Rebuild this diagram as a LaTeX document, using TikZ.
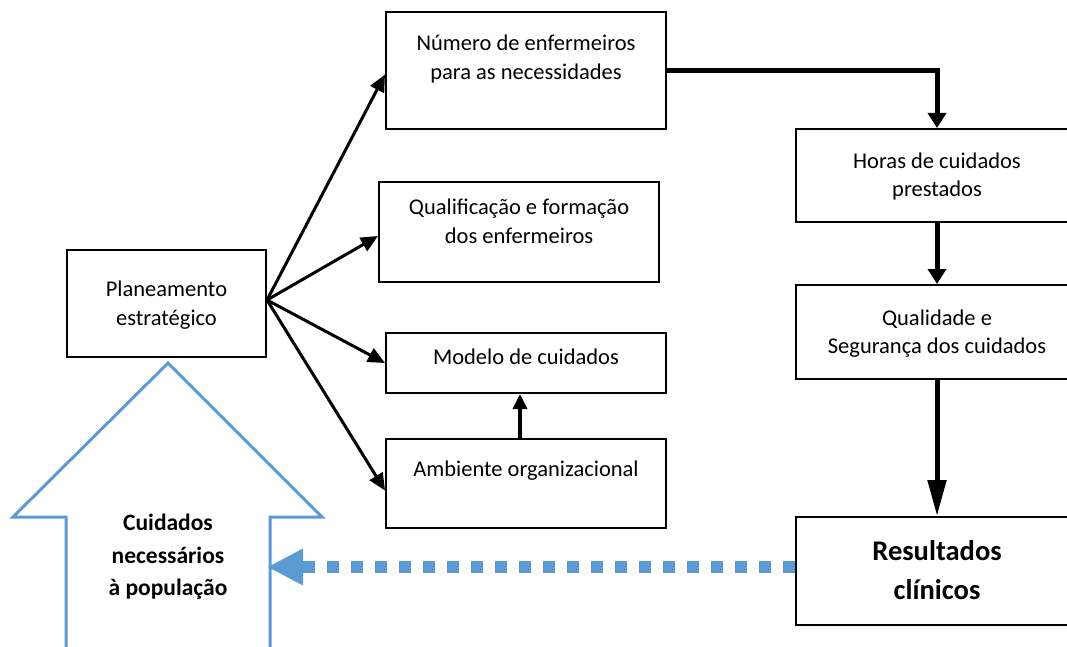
\documentclass[tikz,border=0pt]{standalone}
\usepackage{fontspec}
\setmainfont{Carlito}
\usetikzlibrary{arrows.meta}
\definecolor{ablue}{HTML}{5B9BD5}
\begin{document}
\begin{tikzpicture}[x=1pt,y=-1pt,
  box/.style={draw=black,line width=2pt,inner sep=0pt,minimum width=280pt},
  txt/.style={align=center,inner sep=0pt,font=\fontsize{22.5}{28.5}\selectfont},
  btxt/.style={align=center,inner sep=0pt,font=\fontsize{23.5}{32.5}\selectfont\bfseries},
  rtxt/.style={align=center,inner sep=0pt,font=\fontsize{28.5}{39}\selectfont\bfseries},
  thinarr/.style={line width=3pt,-{Triangle[length=17pt,width=15pt]}},
  thickarr/.style={line width=5pt,-{Triangle[length=15pt,width=18pt]}},
  longarr/.style={line width=5pt,-{Triangle[length=36pt,width=18pt]}},
  midarr/.style={line width=4pt,-{Triangle[length=15pt,width=14pt]}},
  bigarrow/.style={draw=ablue,line width=3pt,line join=miter},
  dotarr/.style={draw=ablue,line width=12pt,dash pattern=on 12pt off 12pt,
    -{Triangle[length=35pt,width=37pt,line width=0pt]}}
]
\useasboundingbox (0,0) rectangle (1067,647);

% big blue arrow
\draw[bigarrow] (168,363) -- (322,517) -- (270,517) -- (270,670)
  -- (66,670) -- (66,517) -- (13,517) -- cycle;
\node[btxt] (cuid) at (168,557) {Cuidados\\necessários\\à população};

% boxes
\node[box,minimum width=199pt,minimum height=107pt] (plan) at (166.5,303.5) {};
\node[txt] (planT) at (166.5,305) {Planeamento\\estratégico};

\node[box,minimum height=117pt] (num) at (526,70.5) {};
\node[txt] (numT) at (526,59) {Número de enfermeiros\\para as necessidades};

\node[box,minimum height=100pt] (qual) at (519,232) {};
\node[txt] (qualT) at (519,221.5) {Qualificação e formação\\dos enfermeiros};

\node[box,minimum height=60pt] (mod) at (526,363) {};
\node[txt] (modT) at (526,357) {Modelo de cuidados};

\node[box,minimum height=89pt] (amb) at (526,483.5) {};
\node[txt] (ambT) at (526,471) {Ambiente organizacional};

\node[box,minimum width=282pt,minimum height=93pt] (hor) at (937,175.5) {};
\node[txt] (horT) at (937,176.5) {Horas de cuidados\\prestados};

\node[box,minimum width=282pt,minimum height=94pt] (qse) at (937,332) {};
\node[txt] (qseT) at (937,333.5) {Qualidade e\\Segurança dos cuidados};

\node[box,minimum width=282pt,minimum height=108pt] (res) at (937,571) {};
\node[rtxt] (resT) at (937,570) {Resultados\\clínicos};

% connectors
\coordinate (src) at (267,300);
\draw[thinarr] (src) -- ([yshift=-4pt]num.west);
\draw[thinarr] (src) -- ([yshift=-4pt]qual.west);
\draw[thinarr] (src) -- (mod.west);
\draw[thinarr] (src) -- ([yshift=-7pt]amb.west);
\draw[midarr] ([xshift=-6pt]amb.north) -- ([xshift=-6pt]mod.south);
\draw[thickarr,line join=miter] (num.east) -| (hor.north);
\draw[thickarr] (hor.south) -- (qse.north);
\draw[longarr] (qse.south) -- (res.north);
\coordinate (dotend) at (268,567);
\draw[dotarr] ([yshift=4pt]res.west) -- (dotend);
\end{tikzpicture}
\end{document}
